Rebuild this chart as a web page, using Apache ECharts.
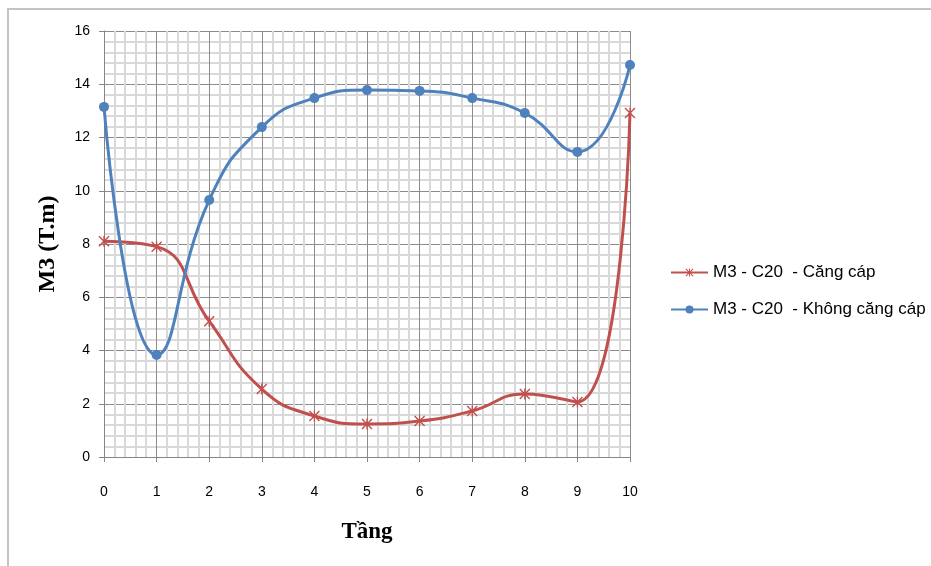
<!DOCTYPE html>
<html>
<head>
<meta charset="utf-8">
<script src="https://cdn.jsdelivr.net/npm/echarts@6/dist/echarts.min.js"></script>
<style>
html,body{margin:0;padding:0;background:#fff;}
#chart{width:931px;height:566px;}
</style>
</head>
<body>
<div id="chart"></div>
<script>
// số liệu
const tang = [0, 1, 2, 3, 4, 5, 6, 7, 8, 9, 10];
const canCap = [8.1, 7.9, 5.1, 2.55, 1.54, 1.24, 1.35, 1.73, 2.37, 2.07, 12.92];
const khongCanCap = [13.15, 3.83, 9.65, 12.39, 13.48, 13.78, 13.75, 13.48, 12.92, 11.46, 14.72];
const yTicks = [0, 2, 4, 6, 8, 10, 12, 14, 16];

const starPath = 'path://M4.4 0L5.6 0L5.6 10L4.4 10Z M0 0.9L0.9 0L10 9.1L9.1 10Z M9.1 0L10 0.9L0.9 10L0 9.1Z';

const chart = echarts.init(document.getElementById('chart'));
const option = {
    backgroundColor: '#fff',
    animation: false,
    graphic: [{
        type: 'rect',
        shape: { x: 8, y: 9, width: 1000, height: 700 },
        style: { fill: 'none', stroke: '#c4c4c4', lineWidth: 2 },
        silent: true
    }],
    grid: { left: 104, right: 301, top: 31, bottom: 109, containLabel: false },
    legend: {
        orient: 'vertical',
        left: 665,
        top: 259,
        itemGap: 20,
        itemWidth: 37,
        itemHeight: 10,
        textStyle: { fontFamily: 'Liberation Sans', fontSize: 17, color: '#000' },
        data: ['M3 - C20  - Căng cáp', 'M3 - C20  - Không căng cáp']
    },
    xAxis: {
        type: 'value',
        min: 0, max: 10, interval: 1,
        name: 'Tầng',
        nameLocation: 'middle',
        nameGap: 64,
        nameTextStyle: { fontFamily: 'Liberation Serif', fontWeight: 'bold', fontSize: 23, color: '#000' },
        axisLine: { onZero: false, lineStyle: { color: '#868686' } },
        axisTick: { show: true, length: 5, lineStyle: { color: '#868686' } },
        axisLabel: { margin: 28, fontFamily: 'Liberation Sans', fontSize: 14, color: '#000' },
        splitLine: { show: true, lineStyle: { color: '#8c8c8c', width: 1 } },
        minorTick: { show: false, splitNumber: 5 },
        minorSplitLine: { show: true, lineStyle: { color: '#d9d9d9', width: 2 } }
    },
    yAxis: {
        type: 'value',
        min: 0, max: 16, interval: 2,
        name: 'M3 (T.m)',
        nameLocation: 'middle',
        nameGap: 44,
        nameTextStyle: { fontFamily: 'Liberation Serif', fontWeight: 'bold', fontSize: 24, color: '#000' },
        axisLine: { show: true, lineStyle: { color: '#868686' } },
        axisTick: { show: true, length: 5, lineStyle: { color: '#868686' } },
        axisLabel: {
            margin: 14, fontFamily: 'Liberation Sans', fontSize: 14, color: '#000',
            formatter: v => yTicks.includes(v) ? String(v) : ''
        },
        splitLine: { show: true, lineStyle: { color: '#8c8c8c', width: 1 } },
        minorTick: { show: false, splitNumber: 5 },
        minorSplitLine: { show: true, lineStyle: { color: '#d9d9d9', width: 2 } }
    },
    series: [
        {
            name: 'M3 - C20  - Căng cáp',
            type: 'line',
            smooth: 0.5,
            data: tang.map((t, i) => [t, canCap[i]]),
            symbol: starPath,
            symbolSize: 11,
            itemStyle: { color: '#c0504d' },
            lineStyle: { color: '#c0504d', width: 3 },
            z: 3
        },
        {
            name: 'M3 - C20  - Không căng cáp',
            type: 'line',
            smooth: 0.5,
            data: tang.map((t, i) => [t, khongCanCap[i]]),
            symbol: 'circle',
            symbolSize: 10,
            itemStyle: { color: '#4f81bd' },
            lineStyle: { color: '#4f81bd', width: 3 },
            z: 4
        }
    ]
};
chart.setOption(option);
</script>
</body>
</html>
